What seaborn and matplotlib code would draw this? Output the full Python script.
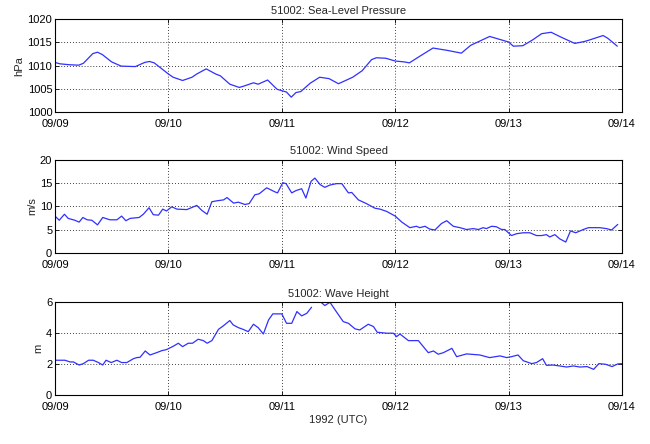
import numpy as np
import pandas as pd
import matplotlib
matplotlib.use("Agg")
import matplotlib.pyplot as plt
import seaborn as sns

# ---- data (hours since 1992-09-09 00:00 UTC) ----
p_hours = [0, 1, 3, 5, 6, 8, 9, 10, 12, 14, 17, 19, 20, 21, 22, 24, 25, 27, 29, 30,
           32, 34, 35, 37, 39, 40, 42, 43, 45, 47, 48, 49, 50, 51, 52, 54, 56, 58, 60,
           63, 65, 67, 68, 70, 72, 74, 75, 77, 80, 83, 86, 88, 92, 93, 96, 97, 99, 101,
           103, 105, 107, 110, 112, 113, 116, 117, 119]
pressure = [1010.7, 1010.4, 1010.2, 1010.1, 1010.5, 1012.6, 1012.9, 1012.4, 1010.8, 1009.9,
            1009.8, 1010.7, 1010.9, 1010.6, 1009.8, 1008.2, 1007.5, 1006.8, 1007.5, 1008.2,
            1009.3, 1008.2, 1007.8, 1006.0, 1005.3, 1005.6, 1006.3, 1006.0, 1006.9, 1004.9,
            1004.6, 1004.3, 1003.2, 1004.2, 1004.4, 1006.2, 1007.5, 1007.2, 1006.1,
            1007.5, 1008.9, 1011.3, 1011.7, 1011.6, 1011.0, 1010.8, 1010.6, 1011.9, 1013.8,
            1013.3, 1012.7, 1014.4, 1016.3, 1016.0, 1015.1, 1014.2, 1014.3, 1015.5,
            1016.9, 1017.2, 1016.2, 1014.8, 1015.2, 1015.5, 1016.5, 1015.9, 1014.2]

w_hours = [0, 0.9, 2, 2.8, 4.2, 5.1, 5.9, 6.8, 7.8, 9, 10.1, 11.6, 13.1, 14.1, 15, 15.9,
           17.8, 18.7, 19.9, 20.8, 21.9, 22.8, 23.6, 24.7, 25.8, 27.9, 30, 31.1, 32.2,
           33.2, 34.3, 35.7, 36.4, 37.8, 38.8, 40.2, 41.1, 42.3, 43.2, 44.8, 46.6, 47.1,
           48.2, 48.9, 50.1, 51, 52.2, 53.1, 54.2, 55, 56.1, 57.1, 58.2, 59.6, 60.7, 62.1,
           62.8, 64.2, 65.9, 67.7, 68.8, 70.2, 72, 73.4, 75.1, 76.5, 77.2, 78.3, 79.3,
           80.4, 81.8, 82.9, 84.3, 85.7, 87.1, 88.5, 89.6, 90.6, 91.3, 92.4, 93.4, 94.5,
           95.2, 96.6, 97.7, 99.1, 100.5, 101.9, 103, 104, 104.7, 105.8, 106.8, 108.1,
           109.1, 110.2, 111.8, 112.9, 115.3, 116.7, 117.8, 119.1]
wind = [7.9, 7.0, 8.3, 7.4, 7.0, 6.6, 7.6, 7.1, 7.0, 6.0, 7.6, 7.1, 7.1, 7.9, 6.9, 7.4,
        7.6, 8.3, 9.7, 8.2, 8.1, 9.4, 9.0, 9.9, 9.4, 9.3, 10.2, 9.1, 8.3,
        11.0, 11.2, 11.4, 11.9, 10.7, 10.9, 10.4, 10.6, 12.5, 12.7, 14.0, 13.1, 12.9,
        15.1, 14.9, 12.9, 13.4, 13.8, 11.8, 15.4, 16.1, 14.7, 14.1, 14.6, 14.9, 14.9, 12.9,
        13.0, 11.4, 10.6, 9.6, 9.4, 8.9, 7.9, 6.6, 5.4, 5.7, 5.4, 5.7, 5.1,
        4.9, 6.3, 6.9, 5.7, 5.4, 5.0, 5.2, 5.0, 5.4, 5.2, 5.7, 5.6, 5.0,
        5.0, 3.7, 4.1, 4.3, 4.3, 3.7, 3.7, 3.9, 3.4, 3.9, 3.0, 2.3,
        4.7, 4.3, 5.0, 5.4, 5.4, 5.2, 4.9, 6.1]

h_hours = [0, 2.1, 3.2, 3.9, 5.1, 6, 7.1, 8.1, 9.2, 10.1, 10.8, 11.9, 13.1, 14.1, 15.2,
           16.6, 17.3, 18, 19.1, 20.1, 21.5, 22.6, 23.6, 25, 26.1, 27, 28.2, 29.1, 30.3,
           31.4, 32.2, 33.2, 34.6, 35.6, 37, 37.7, 38.8, 39.8, 40.9, 42, 43, 44.1, 45.2,
           46.1, 48, 49, 50.1, 51.2, 52.2, 53.3, 54.3, 55.3,
           56.3, 57.1, 58.2, 59.3, 61, 62.1, 63.5, 64.5, 66.3, 67.4, 68.2, 70.2, 71.6, 72.3,
           73, 74.8, 76.9, 79, 80.1, 81.1, 82.2, 84, 85, 87.1, 89.9, 92, 94.2, 95.6, 96.6,
           98, 99.1, 100.9, 101.9, 103.2, 104, 105.4, 106.8, 108.3, 109.7, 111.1, 112.6,
           114, 115.1, 116.5, 117.9, 119.1, 119.9]
wave = [2.25, 2.25, 2.14, 2.14, 1.94, 2.03, 2.25, 2.25, 2.10, 1.94, 2.25, 2.10, 2.25, 2.10, 2.10,
        2.35, 2.42, 2.44, 2.85, 2.59, 2.74, 2.87, 2.94, 3.15, 3.35, 3.13, 3.35, 3.35, 3.61,
        3.52, 3.35, 3.52, 4.25, 4.47, 4.82, 4.54, 4.36, 4.25, 4.10, 4.58, 4.36, 3.95, 4.86,
        5.25, 5.25, 4.64, 4.64, 5.40, 5.12, 5.29, 5.68, np.nan,
        6.0, 5.79, 6.0, 5.5, 4.75, 4.64, 4.28, 4.21, 4.58, 4.43, 4.06, 4.0, 4.0, 3.78,
        3.95, 3.52, 3.52, 2.74, 2.85, 2.64, 2.74, 3.02, 2.48, 2.66, 2.59, 2.42, 2.53, 2.42, 2.48,
        2.59, 2.22, 2.03, 2.10, 2.35, 1.92, 1.94, 1.88, 1.81, 1.88, 1.81, 1.84,
        1.66, 2.03, 1.99, 1.84, 2.01, 2.03]

day_ticks = [0, 24, 48, 72, 96, 120]
day_labels = ["09/09", "09/10", "09/11", "09/12", "09/13", "09/14"]

titles = ["51002: Sea-Level Pressure", "51002: Wind Speed", "51002: Wave Height"]
ylabels = ["hPa", "m/s", "m"]

# ---- plotting ----
sns.set_theme(style="white")
plt.rcParams["font.family"] = ["Liberation Sans", "DejaVu Sans"]
plt.rcParams["font.size"] = 8

fig = plt.figure(figsize=(6.5, 4.44), dpi=100)
W, H = 650, 444
left, right = 55, 622
boxes = [(19.3, 112), (160, 252.7), (302.3, 395)]
axes = [fig.add_axes([left / W, 1 - b / H, (right - left) / W, (b - t) / H]) for t, b in boxes]

line_color = "#3030ff"
df_p = pd.DataFrame({"hour": p_hours, "value": pressure})
df_w = pd.DataFrame({"hour": w_hours, "value": wind})
df_h = pd.DataFrame({"hour": h_hours, "value": wave})
df_h["seg"] = df_h["value"].isna().cumsum()
df_h = df_h.dropna()

sns.lineplot(data=df_p, x="hour", y="value", ax=axes[0], color=line_color, lw=0.9)
sns.lineplot(data=df_w, x="hour", y="value", ax=axes[1], color=line_color, lw=0.9)
sns.lineplot(data=df_h, x="hour", y="value", units="seg", estimator=None,
             ax=axes[2], color=line_color, lw=0.9)

ylims = [(1000, 1020), (0, 20), (0, 6)]
yticks = [[1000, 1005, 1010, 1015, 1020], [0, 5, 10, 15, 20], [0, 2, 4, 6]]

for ax, title, yl, lim, yt in zip(axes, titles, ylabels, ylims, yticks):
    ax.set_xlim(0, 120)
    ax.set_ylim(*lim)
    ax.set_xticks(day_ticks)
    ax.set_xticklabels(day_labels)
    ax.set_yticks(yt)
    ax.set_ylabel(yl, fontsize=8, labelpad=2)
    ax.set_xlabel("")
    ax.set_title(title, fontsize=8, pad=4)
    ax.grid(True, color="black", linestyle=(0, (1, 2.5)), linewidth=0.6)
    ax.tick_params(direction="in", length=3, width=0.6, labelsize=8,
                   top=True, right=True, bottom=True, left=True, colors="black")
    ax.tick_params(axis="x", pad=5)
    ax.tick_params(axis="y", pad=2)
    for s in ax.spines.values():
        s.set_color("black")
        s.set_linewidth(0.8)
    ax.set_facecolor("white")

axes[2].set_xlabel("1992 (UTC)", fontsize=8, labelpad=2)

fig.savefig("out.png", dpi=100, facecolor="white")
